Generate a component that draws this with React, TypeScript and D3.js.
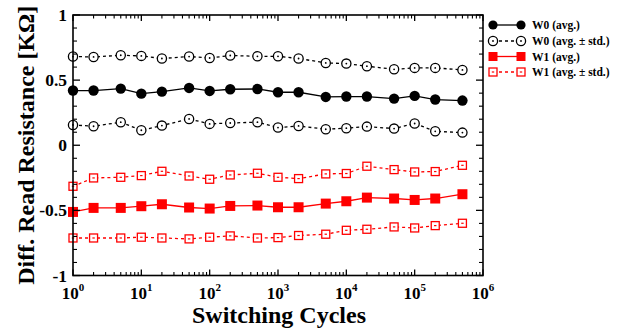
import React from "react";
import * as d3 from "d3";

const cycles = [1, 2, 5, 10, 20, 50, 100, 200, 500, 1000, 2000, 5000, 10000, 20000, 50000, 100000, 200000, 500000];
const w0Avg = [0.42, 0.42, 0.435, 0.396, 0.412, 0.44, 0.417, 0.43, 0.432, 0.407, 0.407, 0.371, 0.374, 0.374, 0.358, 0.379, 0.351, 0.343];
const w0Upper = [0.681, 0.678, 0.691, 0.686, 0.666, 0.681, 0.67, 0.689, 0.683, 0.683, 0.666, 0.632, 0.627, 0.607, 0.583, 0.594, 0.594, 0.578];
const w0Lower = [0.156, 0.146, 0.177, 0.115, 0.151, 0.202, 0.164, 0.171, 0.177, 0.136, 0.148, 0.123, 0.131, 0.143, 0.128, 0.167, 0.107, 0.097];
const w1Avg = [-0.512, -0.481, -0.481, -0.468, -0.453, -0.478, -0.486, -0.466, -0.463, -0.476, -0.476, -0.448, -0.43, -0.402, -0.409, -0.42, -0.409, -0.376];
const w1Upper = [-0.315, -0.251, -0.246, -0.233, -0.2, -0.236, -0.261, -0.228, -0.215, -0.246, -0.256, -0.22, -0.217, -0.161, -0.187, -0.205, -0.202, -0.154];
const w1Lower = [-0.712, -0.712, -0.712, -0.706, -0.712, -0.719, -0.706, -0.696, -0.712, -0.709, -0.693, -0.683, -0.653, -0.645, -0.627, -0.635, -0.617, -0.599];

const xTickExps = [0, 1, 2, 3, 4, 5, 6];
const yTicks = [1, 0.5, 0, -0.5, -1];
const yTickLabels = ["1", "0.5", "0", "-0.5", "-1"];
const legendLabels = ["W0 (avg.)", "W0 (avg. \u00b1 std.)", "W1 (avg.)", "W1 (avg. \u00b1 std.)"];

const RED = "#ff0000";
const FONT = "'Liberation Serif', 'Times New Roman', serif";

export default function App() {
  const L = 73, R = 483, T = 15, B = 275.5;
  const x = d3.scaleLog().domain([1, 1e6]).range([L, R]);
  const y = d3.scaleLinear().domain([-1, 1]).range([B, T]);
  const line = (vals: number[]) =>
    d3.line<number>().x((_, i) => x(cycles[i])).y((v) => y(v))(vals) || "";

  const minorX: number[] = [];
  for (let e = 0; e < 6; e++) for (let k = 2; k <= 9; k++) minorX.push(k * Math.pow(10, e));
  const minorY: number[] = d3.range(-10, 11).map((i) => i / 10).filter((v) => Math.abs(v * 2 - Math.round(v * 2)) > 1e-6);

  const openCircle = (cx: number, cy: number, key: string | number) => (
    <g key={key}>
      <circle cx={cx} cy={cy} r={4.6} fill="white" stroke="black" strokeWidth={1.3} />
      <circle cx={cx} cy={cy} r={0.9} fill="black" />
    </g>
  );
  const openSquare = (cx: number, cy: number, key: string | number) => (
    <g key={key}>
      <rect x={cx - 4} y={cy - 4} width={8} height={8} fill="white" stroke={RED} strokeWidth={1.3} />
      <line x1={cx - 1.2} x2={cx + 1.2} y1={cy} y2={cy} stroke={RED} strokeWidth={1.2} />
    </g>
  );

  const dash = "3,3";
  const lgX = 493, lgY = [25, 41, 56.5, 72];

  return (
    <svg width={628} height={332} style={{ position: "absolute", left: 0, top: 0, background: "white" }} fontFamily={FONT} fontWeight="bold">
      <rect x={0} y={0} width={628} height={332} fill="white" />
      {/* series lines */}
      <path d={line(w0Upper)} fill="none" stroke="black" strokeWidth={1.3} strokeDasharray={dash} />
      <path d={line(w0Lower)} fill="none" stroke="black" strokeWidth={1.3} strokeDasharray={dash} />
      <path d={line(w0Avg)} fill="none" stroke="black" strokeWidth={1.3} />
      <path d={line(w1Upper)} fill="none" stroke={RED} strokeWidth={1.3} strokeDasharray={dash} />
      <path d={line(w1Lower)} fill="none" stroke={RED} strokeWidth={1.3} strokeDasharray={dash} />
      <path d={line(w1Avg)} fill="none" stroke={RED} strokeWidth={1.3} />
      {/* markers */}
      {w0Upper.map((v, i) => openCircle(x(cycles[i]), y(v), "wu" + i))}
      {w0Lower.map((v, i) => openCircle(x(cycles[i]), y(v), "wl" + i))}
      {w0Avg.map((v, i) => <circle key={"wa" + i} cx={x(cycles[i])} cy={y(v)} r={5.2} fill="black" />)}
      {w1Upper.map((v, i) => openSquare(x(cycles[i]), y(v), "qu" + i))}
      {w1Lower.map((v, i) => openSquare(x(cycles[i]), y(v), "ql" + i))}
      {w1Avg.map((v, i) => <rect key={"qa" + i} x={x(cycles[i]) - 5} y={y(v) - 5} width={10} height={10} fill={RED} />)}
      {/* axes frame */}
      <rect x={L} y={T} width={R - L} height={B - T} fill="none" stroke="black" strokeWidth={1.6} />
      {/* x ticks */}
      {xTickExps.map((e) => {
        const xx = x(Math.pow(10, e));
        return (
          <g key={"xt" + e}>
            <line x1={xx} x2={xx} y1={B} y2={B - 6} stroke="black" strokeWidth={1.3} />
            <line x1={xx} x2={xx} y1={T} y2={T + 6} stroke="black" strokeWidth={1.3} />
            <text x={xx} y={299} textAnchor="middle" fontSize={17}>
              10<tspan fontSize={11} dy={-8}>{e}</tspan>
            </text>
          </g>
        );
      })}
      {minorX.map((v, i) => (
        <g key={"xm" + i}>
          <line x1={x(v)} x2={x(v)} y1={B} y2={B - 3.5} stroke="black" strokeWidth={1.1} />
          <line x1={x(v)} x2={x(v)} y1={T} y2={T + 3.5} stroke="black" strokeWidth={1.1} />
        </g>
      ))}
      {/* y ticks */}
      {yTicks.map((v, i) => (
        <g key={"yt" + i}>
          <line x1={L} x2={L + 7} y1={y(v)} y2={y(v)} stroke="black" strokeWidth={1.3} />
          <line x1={R} x2={R - 7} y1={y(v)} y2={y(v)} stroke="black" strokeWidth={1.3} />
          <text x={67} y={y(v) + 6} textAnchor="end" fontSize={17.5}>{yTickLabels[i]}</text>
        </g>
      ))}
      {minorY.map((v, i) => (
        <g key={"ym" + i}>
          <line x1={L} x2={L + 4} y1={y(v)} y2={y(v)} stroke="black" strokeWidth={1.1} />
          <line x1={R} x2={R - 4} y1={y(v)} y2={y(v)} stroke="black" strokeWidth={1.1} />
        </g>
      ))}
      {/* axis titles */}
      <text x={(L + R) / 2 + 1} y={323} textAnchor="middle" fontSize={24}>Switching Cycles</text>
      <text transform={`translate(34,${(T + B) / 2}) rotate(-90)`} textAnchor="middle" fontSize={24}>
        Diff. Read Resistance [K&#937;]
      </text>
      {/* legend */}
      <g>
        <line x1={lgX} x2={lgX + 28} y1={lgY[0]} y2={lgY[0]} stroke="black" strokeWidth={1.3} />
        <circle cx={lgX} cy={lgY[0]} r={4.6} fill="black" />
        <circle cx={lgX + 28} cy={lgY[0]} r={4.6} fill="black" />
        <line x1={lgX} x2={lgX + 28} y1={lgY[1]} y2={lgY[1]} stroke="black" strokeWidth={1.3} strokeDasharray={dash} />
        {openCircle(lgX, lgY[1], "l1a")}
        {openCircle(lgX + 28, lgY[1], "l1b")}
        <line x1={lgX} x2={lgX + 28} y1={lgY[2]} y2={lgY[2]} stroke={RED} strokeWidth={1.3} />
        <rect x={lgX - 4.5} y={lgY[2] - 4.5} width={9} height={9} fill={RED} />
        <rect x={lgX + 28 - 4.5} y={lgY[2] - 4.5} width={9} height={9} fill={RED} />
        <line x1={lgX} x2={lgX + 28} y1={lgY[3]} y2={lgY[3]} stroke={RED} strokeWidth={1.3} strokeDasharray={dash} />
        {openSquare(lgX, lgY[3], "l3a")}
        {openSquare(lgX + 28, lgY[3], "l3b")}
        {legendLabels.map((t, i) => (
          <text key={"lg" + i} x={532} y={lgY[i] + 4} fontSize={11.5}>{t}</text>
        ))}
      </g>
    </svg>
  );
}
